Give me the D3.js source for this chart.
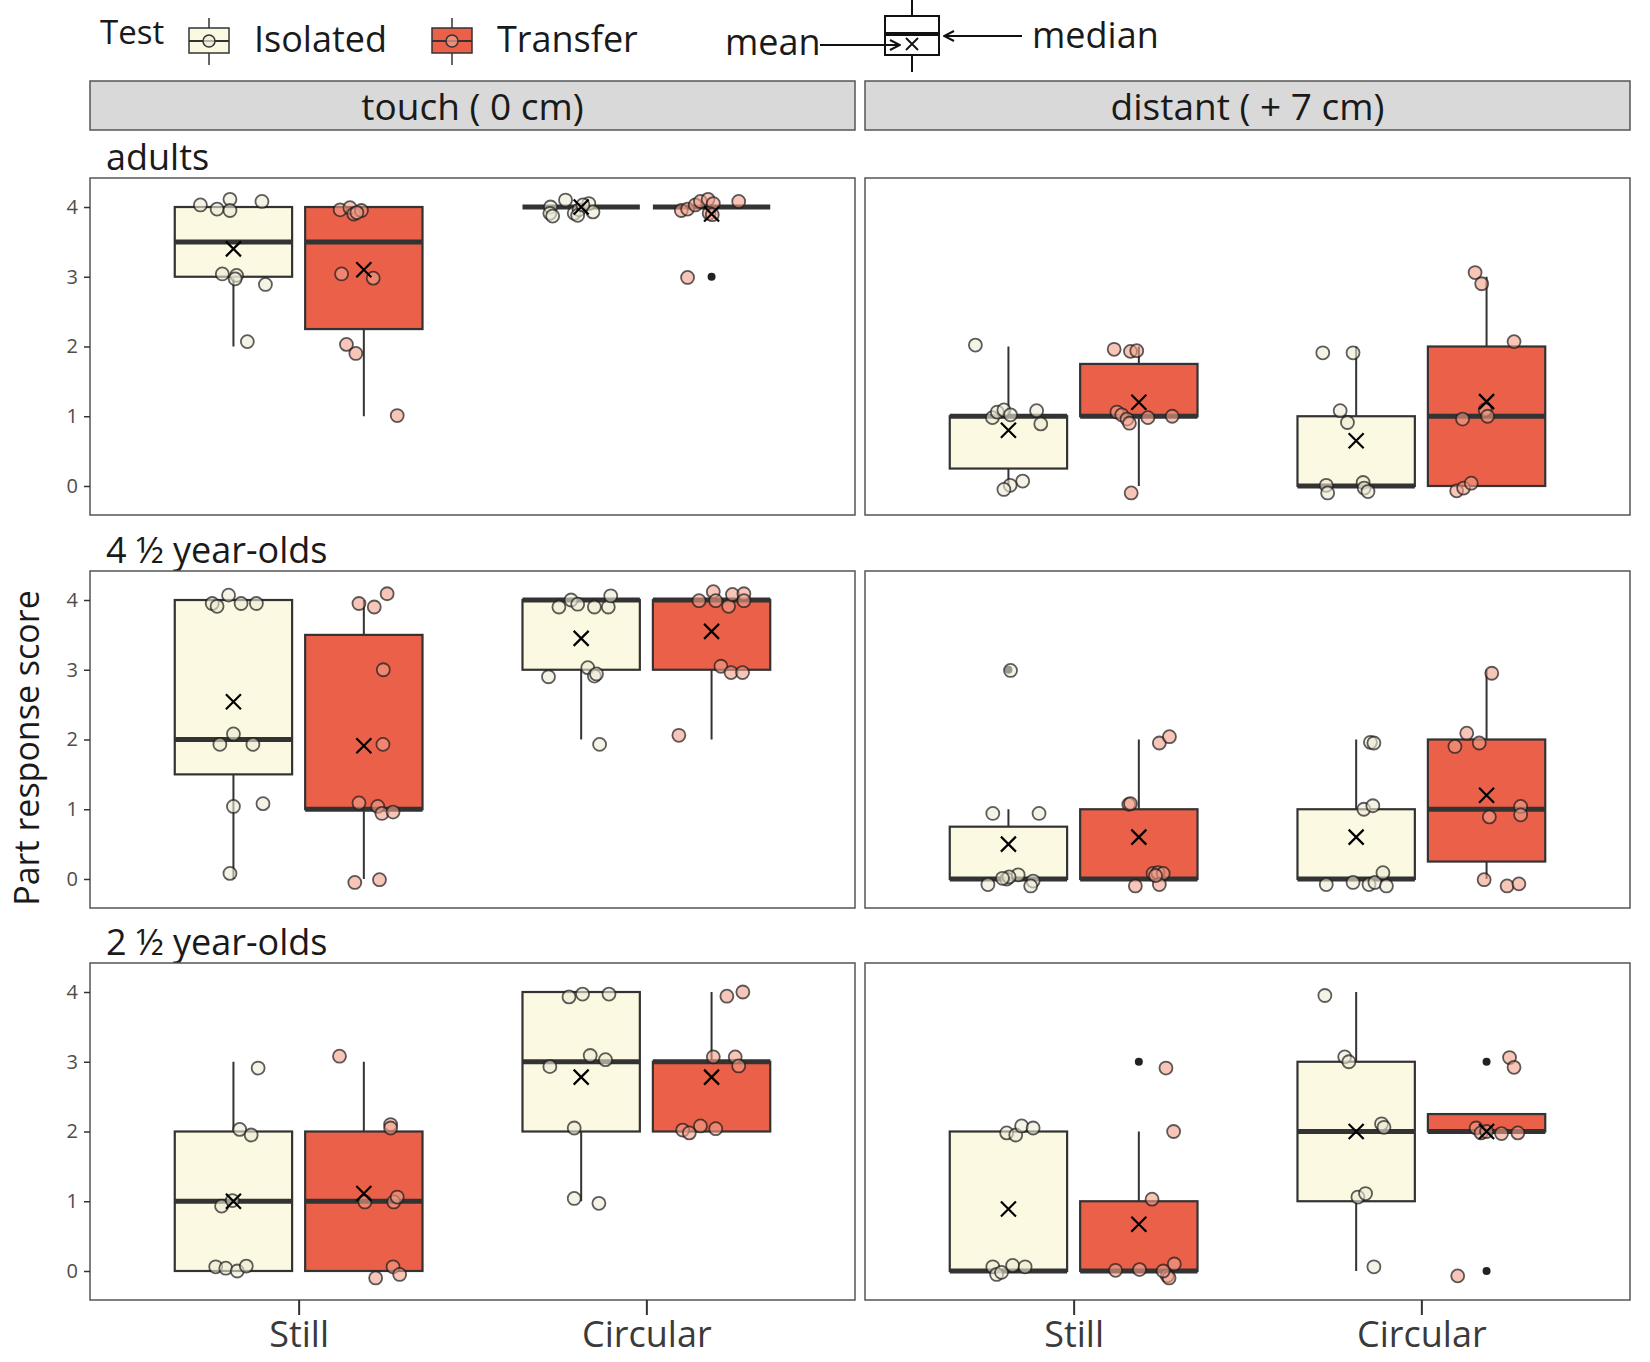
<!DOCTYPE html>
<meta charset="utf-8">
<script src="https://cdn.jsdelivr.net/npm/d3@7/dist/d3.min.js"></script>
<style>
  body { margin: 0; background: #fff; }
  text { font-family: "Open Sans", sans-serif; }
</style>
<body>
<div id="chart"></div>
<script>
var rows = ["adults", "4 \u00bd year-olds", "2 \u00bd year-olds"];
var cols = ["touch ( 0 cm)", "distant ( + 7 cm)"];
var conditions = ["Still", "Circular"];
var tests = ["Isolated", "Transfer"];
var yTicks = [0, 1, 2, 3, 4];

// box order in each row: touch Still Iso, touch Still Tr, touch Circ Iso, touch Circ Tr,
// distant Still Iso, distant Still Tr, distant Circ Iso, distant Circ Tr
// [lower whisker, q1, median, q3, upper whisker, mean]
var adultsBoxes = [
  [2, 3, 3.5, 4, 4, 3.4], [1, 2.25, 3.5, 4, 4, 3.1], [4, 4, 4, 4, 4, 4.0], [4, 4, 4, 4, 4, 3.9],
  [0, 0.25, 1, 1, 2, 0.8], [0, 1, 1, 1.75, 2, 1.2], [0, 0, 0, 1, 2, 0.65], [0, 0, 1, 2, 3, 1.21]
];
var olderBoxes = [
  [0, 1.5, 2, 4, 4, 2.54], [0, 1, 1, 3.5, 4, 1.91], [2, 3, 4, 4, 4, 3.45], [2, 3, 4, 4, 4, 3.55],
  [0, 0, 0, 0.75, 1, 0.5], [0, 0, 0, 1, 2, 0.6], [0, 0, 0, 1, 2, 0.6], [0, 0.25, 1, 2, 3, 1.2]
];
var youngerBoxes = [
  [0, 0, 1, 2, 3, 1.0], [0, 0, 1, 2, 3, 1.11], [1, 2, 3, 4, 4, 2.78], [2, 2, 3, 3, 4, 2.78],
  [0, 0, 0, 2, 2, 0.89], [0, 0, 0, 1, 2, 0.67], [0, 1, 2, 3, 4, 2.0], [2, 2, 2, 2.25, 2.25, 2.0]
];

// outliers: [row, box index, value]
var outliers = [[0, 3, 3], [1, 4, 3], [2, 5, 3], [2, 7, 3], [2, 7, 0]];

// jittered observations: [x offset in category units, jittered score]
var adultsPoints = [
  [[-0.095,4.03],[-0.047,3.97],[-0.01,4.11],[-0.01,3.95],[0.082,4.08],[-0.032,3.04],[0.009,3.02],[0.005,2.97],[0.092,2.89],[0.04,2.07]],
  [[-0.068,3.96],[-0.04,3.99],[-0.029,3.9],[-0.007,3.95],[-0.02,3.92],[-0.064,3.04],[0.027,2.98],[-0.05,2.03],[-0.023,1.9],[0.096,1.01]],
  [[-0.088,4.0],[-0.09,3.91],[-0.082,3.87],[-0.045,4.1],[-0.02,3.91],[-0.006,3.96],[0.022,4.05],[0.034,3.93],[-0.01,3.88],[0.005,4.03]],
  [[-0.087,3.95],[-0.069,3.97],[-0.047,4.03],[-0.032,4.08],[-0.01,4.11],[0.005,4.05],[-0.007,3.91],[0.078,4.08],[-0.069,2.99],[0.002,3.89]],
  [[-0.095,2.02],[-0.046,0.98],[-0.032,1.06],[-0.013,1.09],[0.006,1.02],[0.081,1.08],[0.093,0.89],[0.041,0.07],[0.005,0.01],[-0.013,-0.05]],
  [[-0.071,1.96],[-0.024,1.93],[-0.006,1.94],[-0.063,1.06],[-0.049,1.02],[-0.034,0.96],[-0.027,0.9],[0.026,0.98],[0.096,1.0],[-0.022,-0.1]],
  [[-0.096,1.91],[-0.009,1.91],[-0.046,1.08],[-0.025,0.91],[-0.086,0.01],[-0.082,-0.1],[0.02,0.05],[0.023,-0.03],[0.034,-0.08]],
  [[-0.033,3.06],[-0.014,2.9],[0.079,2.07],[-0.069,0.96],[-0.004,1.09],[0.003,1.0],[-0.086,-0.07],[-0.066,-0.03],[-0.044,0.04]]
];
var olderPoints = [
  [[-0.061,3.95],[-0.047,3.91],[-0.014,4.07],[0.022,3.95],[0.066,3.95],[0,2.08],[-0.039,1.93],[0.056,1.93],[0,1.04],[0.085,1.08],[-0.01,0.08]],
  [[-0.014,3.95],[0.03,3.9],[0.067,4.09],[0.056,3.0],[0.055,1.93],[-0.014,1.09],[0.04,1.04],[0.052,0.94],[0.084,0.96],[-0.026,-0.05],[0.045,-0.01]],
  [[-0.064,3.9],[-0.029,4.0],[-0.01,3.94],[0.038,3.9],[0.078,3.9],[0.085,4.06],[-0.094,2.9],[0.019,3.03],[0.038,2.91],[0.044,2.94],[0.053,1.93]],
  [[-0.036,3.99],[0.005,4.12],[0.012,3.99],[0.049,3.91],[0.06,4.08],[0.093,4.09],[0.093,3.99],[0.027,3.05],[0.056,2.96],[0.089,2.96],[-0.094,2.06]],
  [[0.006,2.99],[-0.045,0.94],[0.088,0.94],[-0.059,-0.08],[-0.005,0.0],[0.028,0.06],[0.071,-0.03],[0.064,-0.1],[0.002,0.03],[-0.017,0.01]],
  [[0.059,1.95],[0.088,2.04],[-0.029,1.07],[-0.024,1.08],[-0.01,-0.1],[0.041,0.08],[0.055,0.09],[0.07,0.08],[0.059,-0.08],[0.048,0.05]],
  [[0.041,1.96],[0.051,1.95],[0.022,1.0],[0.048,1.05],[-0.086,-0.08],[-0.009,-0.05],[0.037,-0.08],[0.054,-0.05],[0.087,-0.1],[0.077,0.09]],
  [[0.015,2.95],[-0.091,1.9],[-0.057,2.09],[-0.021,1.95],[0.008,0.89],[0.098,1.04],[0.098,0.92],[-0.007,-0.01],[0.059,-0.1],[0.093,-0.07]]
];
var youngerPoints = [
  [[0.071,2.91],[0.018,2.03],[0.051,1.95],[-0.034,0.93],[-0.003,1.01],[-0.051,0.06],[-0.022,0.04],[0.011,0.0],[0.037,0.07]],
  [[-0.07,3.08],[0.077,2.1],[0.077,2.05],[0.003,0.99],[0.086,0.99],[0.096,1.06],[0.034,-0.1],[0.084,0.06],[0.103,-0.05]],
  [[-0.035,3.93],[0.004,3.97],[0.08,3.97],[-0.09,2.93],[0.026,3.09],[0.07,3.03],[-0.02,2.05],[-0.02,1.04],[0.051,0.97]],
  [[0.044,3.94],[0.09,4.0],[0.005,3.07],[0.068,3.07],[0.078,2.94],[-0.083,2.02],[-0.064,1.98],[-0.032,2.08],[0.012,2.04]],
  [[-0.005,1.98],[0.021,1.95],[0.038,2.08],[0.071,2.05],[-0.045,0.06],[-0.034,-0.05],[-0.02,-0.02],[0.012,0.08],[0.048,0.06]],
  [[0.078,2.91],[0.1,2.0],[0.038,1.03],[-0.067,0.01],[0.002,0.02],[0.082,-0.07],[0.087,-0.1],[0.102,0.1],[0.07,0.0]],
  [[-0.09,3.95],[-0.033,3.07],[-0.021,3.0],[0.073,2.11],[0.08,2.06],[0.005,1.06],[0.027,1.11],[0.051,0.06]],
  [[0.066,3.06],[0.079,2.92],[-0.03,2.05],[-0.016,1.98],[0.043,1.97],[0.09,1.98],[0.0,2.0],[-0.083,-0.07]]
];

var boxesByRow = [adultsBoxes, olderBoxes, youngerBoxes];
var pointsByRow = [adultsPoints, olderPoints, youngerPoints];

var boxFill = ["#fbf9e1", "#ea6049"];
var ptFill = ["#eeead6", "#f4a08b"];

var W = 1650, H = 1362;
var panelX = [90, 865], panelW = 765;
var panelY = [178, 571, 963], panelH = 337;

var svg = d3.select("#chart").append("svg")
  .attr("width", W).attr("height", H);

var x = d3.scaleLinear().domain([0.4, 2.6]).range([0, panelW]);
var y = d3.scaleLinear().domain([-0.416, 4.416]).range([panelH, 0]);
var dodge = 0.1875, boxW = 0.3375;

// strips
cols.forEach(function(c, ci) {
  svg.append("rect")
    .attr("x", panelX[ci]).attr("y", 81)
    .attr("width", panelW).attr("height", 49)
    .attr("fill", "#d9d9d9").attr("stroke", "#555").attr("stroke-width", 1.5);
  svg.append("text")
    .attr("x", panelX[ci] + panelW / 2).attr("y", 120)
    .attr("text-anchor", "middle")
    .style("font-size", "37px").attr("fill", "#1a1a1a")
    .text(c);
});

rows.forEach(function(rname, ri) {
  svg.append("text")
    .attr("x", 106).attr("y", panelY[ri] - 8)
    .style("font-size", "36px").attr("fill", "#1a1a1a")
    .text(rname);

  cols.forEach(function(cname, ci) {
    var g = svg.append("g")
      .attr("transform", "translate(" + panelX[ci] + "," + panelY[ri] + ")");

    g.append("rect")
      .attr("width", panelW).attr("height", panelH)
      .attr("fill", "#fff").attr("stroke", "#555").attr("stroke-width", 1.5);

    if (ci == 0) {
      var ya = g.append("g").call(d3.axisLeft(y).tickValues(yTicks)
        .tickFormat(d3.format("d")).tickSize(6).tickPadding(6));
      ya.select(".domain").remove();
      ya.selectAll("line").attr("stroke", "#333").attr("stroke-width", 1.5);
      ya.selectAll("text").style("font-size", "20px").attr("fill", "#4d4d4d")
        .style("font-family", "'Open Sans', sans-serif");
    }
    if (ri == 2) {
      var xa = g.append("g").attr("transform", "translate(0," + panelH + ")")
        .call(d3.axisBottom(x).tickValues([1, 2])
          .tickFormat(function(d) { return conditions[d - 1]; })
          .tickSize(15).tickPadding(6));
      xa.select(".domain").remove();
      xa.selectAll("line").attr("stroke", "#333").attr("stroke-width", 2);
      xa.selectAll("text").style("font-size", "36px").attr("fill", "#3a3a3a")
        .style("font-family", "'Open Sans', sans-serif");
    }

    for (var k = 0; k < 4; k++) {
      var idx = ci * 4 + k;
      var cond = k >> 1, t = k & 1;
      var s = boxesByRow[ri][idx];
      var cx = x(cond + 1 + (t ? dodge : -dodge));
      var half = (x(boxW) - x(0)) / 2;
      var bg = g.append("g");

      bg.append("line").attr("x1", cx).attr("x2", cx)
        .attr("y1", y(s[0])).attr("y2", y(s[1]))
        .attr("stroke", "#333").attr("stroke-width", 2);
      bg.append("line").attr("x1", cx).attr("x2", cx)
        .attr("y1", y(s[3])).attr("y2", y(s[4]))
        .attr("stroke", "#333").attr("stroke-width", 2);
      bg.append("rect")
        .attr("x", cx - half).attr("width", half * 2)
        .attr("y", y(s[3])).attr("height", y(s[1]) - y(s[3]))
        .attr("fill", boxFill[t]).attr("stroke", "#333").attr("stroke-width", 2.2);
      bg.append("line").attr("x1", cx - half).attr("x2", cx + half)
        .attr("y1", y(s[2])).attr("y2", y(s[2]))
        .attr("stroke", "#333").attr("stroke-width", 5);

      outliers.filter(function(o) { return o[0] == ri && o[1] == idx; })
        .forEach(function(o) {
          bg.append("circle").attr("cx", cx).attr("cy", y(o[2])).attr("r", 4)
            .attr("fill", "#222");
        });

      bg.selectAll("circle.pt").data(pointsByRow[ri][idx]).enter()
        .append("circle").attr("class", "pt")
        .attr("cx", function(d) { return cx + x(d[0]) - x(0); })
        .attr("cy", function(d) { return y(d[1]); })
        .attr("r", 6.5)
        .attr("fill", ptFill[t]).attr("fill-opacity", 0.6)
        .attr("stroke", "#1a1a1a").attr("stroke-opacity", 0.7).attr("stroke-width", 1.8);

      var my = y(s[5]), m = 7.5;
      bg.append("path")
        .attr("d", "M" + (cx - m) + "," + (my - m) + "L" + (cx + m) + "," + (my + m) +
                   "M" + (cx - m) + "," + (my + m) + "L" + (cx + m) + "," + (my - m))
        .attr("stroke", "#000").attr("stroke-width", 2.2);
    }
  });
});

// y axis title
svg.append("text")
  .attr("transform", "translate(39,748) rotate(-90)")
  .attr("text-anchor", "middle")
  .style("font-size", "34px").attr("fill", "#1a1a1a")
  .text("Part response score");

// legend
svg.append("text").attr("x", 100).attr("y", 44)
  .style("font-size", "33px").attr("fill", "#1a1a1a").text("Test");

var keyX = [209, 452], labelX = [254, 497];
tests.forEach(function(tn, ti) {
  var kx = keyX[ti];
  svg.append("line").attr("x1", kx).attr("x2", kx).attr("y1", 18).attr("y2", 65)
    .attr("stroke", "#333").attr("stroke-width", 1.5);
  svg.append("rect").attr("x", kx - 20).attr("y", 28).attr("width", 40).attr("height", 25)
    .attr("fill", boxFill[ti]).attr("stroke", "#333").attr("stroke-width", 1.5);
  svg.append("line").attr("x1", kx - 20).attr("x2", kx + 20).attr("y1", 41).attr("y2", 41)
    .attr("stroke", "#333").attr("stroke-width", 2);
  svg.append("circle").attr("cx", kx).attr("cy", 41).attr("r", 6)
    .attr("fill", ptFill[ti]).attr("fill-opacity", 0.7)
    .attr("stroke", "#333").attr("stroke-width", 1.5);
  svg.append("text").attr("x", labelX[ti]).attr("y", 52)
    .style("font-size", "36px").attr("fill", "#1a1a1a").text(tn);
});

// mean / median explanation glyph
var defs = svg.append("defs");
defs.append("marker").attr("id", "arr")
  .attr("viewBox", "0 0 12 12").attr("refX", 11).attr("refY", 6)
  .attr("markerWidth", 12).attr("markerHeight", 12).attr("markerUnits", "userSpaceOnUse")
  .attr("orient", "auto")
  .append("path").attr("d", "M1,1L11,6L1,11").attr("fill", "none")
  .attr("stroke", "#111").attr("stroke-width", 2);

var gx = 912;
svg.append("line").attr("x1", gx).attr("x2", gx).attr("y1", 0).attr("y2", 72)
  .attr("stroke", "#111").attr("stroke-width", 2);
svg.append("rect").attr("x", gx - 27).attr("y", 16).attr("width", 54).attr("height", 39)
  .attr("fill", "#fff").attr("stroke", "#111").attr("stroke-width", 2);
svg.append("line").attr("x1", gx - 27).attr("x2", gx + 27).attr("y1", 34).attr("y2", 34)
  .attr("stroke", "#111").attr("stroke-width", 4);
svg.append("path")
  .attr("d", "M" + (gx - 6) + ",38L" + (gx + 6) + ",50M" + (gx - 6) + ",50L" + (gx + 6) + ",38")
  .attr("stroke", "#111").attr("stroke-width", 1.8);
svg.append("line").attr("x1", 820).attr("x2", 900).attr("y1", 45).attr("y2", 45)
  .attr("stroke", "#111").attr("stroke-width", 2).attr("marker-end", "url(#arr)");
svg.append("line").attr("x1", 1022).attr("x2", 944).attr("y1", 36).attr("y2", 36)
  .attr("stroke", "#111").attr("stroke-width", 2).attr("marker-end", "url(#arr)");
svg.append("text").attr("x", 725).attr("y", 55)
  .style("font-size", "36px").attr("fill", "#1a1a1a").text("mean");
svg.append("text").attr("x", 1032).attr("y", 48)
  .style("font-size", "36px").attr("fill", "#1a1a1a").text("median");
</script>
</body>
